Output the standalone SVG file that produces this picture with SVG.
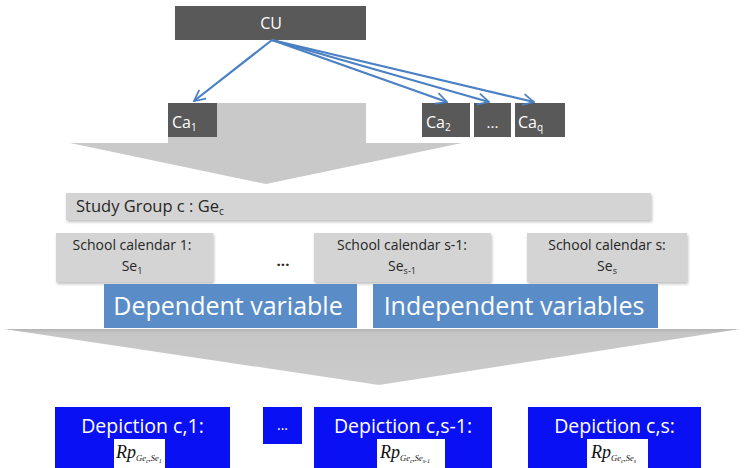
<svg xmlns="http://www.w3.org/2000/svg" width="744" height="468" viewBox="0 0 744 468">
<style>
.dark{fill:#595959}
.wt{fill:#ffffff;font-family:"Open Sans","Liberation Sans",sans-serif}
.lg{fill:#d4d4d4}
.dk{fill:#262626;font-family:"Open Sans","Liberation Sans",sans-serif}
.var{fill:#5a8dc8}
.dep{fill:#0a10f4}
.conn{stroke:#4a80c4;stroke-width:2.2;fill:none;marker-end:url(#ah)}
.f{font-family:"Liberation Serif",serif;font-style:italic;fill:#111}
</style>
<defs>
<marker id="ah" viewBox="0 0 12 12" refX="11" refY="6" markerWidth="6" markerHeight="6" orient="auto" markerUnits="strokeWidth">
<path d="M1,1 L11,6 L1,11" fill="none" stroke="#4a80c4" stroke-width="1.6"/>
</marker>
<filter id="sh" x="-5%" y="-20%" width="110%" height="150%">
<feDropShadow dx="1" dy="2" stdDeviation="1.5" flood-color="#000" flood-opacity="0.25"/>
</filter>
<linearGradient id="chev2" x1="0" y1="0" x2="0" y2="1">
<stop offset="0" stop-color="#b5b5b5"/>
<stop offset="0.08" stop-color="#c6c6c6"/>
<stop offset="1" stop-color="#cbcbcb"/>
</linearGradient>
</defs>
<rect width="744" height="468" fill="#ffffff"/>

<g id="arrow1">
<polygon points="168,103 366,103 366,143 462,143 266,184 70,143 168,143" fill="#c9c9c9"/>
</g>
<g id="arrow2">
<polygon points="4,329 740,329 379,385" fill="url(#chev2)"/>
</g>

<g id="CU">
<rect class="dark" x="175" y="6" width="191" height="34"/>
<text class="wt" x="271" y="29" font-size="16" text-anchor="middle">CU</text>
</g>
<g id="Ca1">
<rect class="dark" x="168" y="103" width="49" height="34"/>
<text class="wt" x="172" y="128" font-size="16">Ca<tspan font-size="10" dy="3">1</tspan></text>
</g>
<g id="Ca2">
<rect class="dark" x="422" y="103" width="48" height="34"/>
<text class="wt" x="426" y="128" font-size="16">Ca<tspan font-size="10" dy="3">2</tspan></text>
</g>
<g id="CaDots">
<rect class="dark" x="474" y="103" width="37" height="34"/>
<text class="wt" x="492.5" y="128" font-size="15" text-anchor="middle">...</text>
</g>
<g id="Caq">
<rect class="dark" x="515" y="103" width="50" height="34"/>
<text class="wt" x="518" y="128" font-size="16">Ca<tspan font-size="10" dy="3">q</tspan></text>
</g>

<g id="connectors">
<line class="conn" x1="272" y1="40" x2="194" y2="101"/>
<line class="conn" x1="272" y1="40" x2="447" y2="102"/>
<line class="conn" x1="272" y1="40" x2="489" y2="102"/>
<line class="conn" x1="272" y1="40" x2="534" y2="102"/>
</g>

<g id="studyGroup">
<rect class="lg" x="66" y="193" width="585" height="27" filter="url(#sh)"/>
<text class="dk" x="76" y="212" font-size="16.5">Study Group c : Ge<tspan font-size="10" dy="3">c</tspan></text>
</g>

<g id="sc1">
<rect class="lg" x="56" y="233" width="157" height="49" filter="url(#sh)"/>
<text class="dk" x="132" y="250" font-size="14" text-anchor="middle">School calendar 1:</text>
<text class="dk" x="132" y="271" font-size="14" text-anchor="middle">Se<tspan font-size="9" dy="3">1</tspan></text>
</g>
<g id="scDots">
<text class="dk" x="283" y="266" font-size="15" font-weight="bold" text-anchor="middle">...</text>
</g>
<g id="sc2">
<rect class="lg" x="314" y="233" width="177" height="49" filter="url(#sh)"/>
<text class="dk" x="402" y="250" font-size="14" text-anchor="middle">School calendar s-1:</text>
<text class="dk" x="402" y="271" font-size="14" text-anchor="middle">Se<tspan font-size="9" dy="3">s-1</tspan></text>
</g>
<g id="sc3">
<rect class="lg" x="527" y="233" width="160" height="49" filter="url(#sh)"/>
<text class="dk" x="607" y="250" font-size="14" text-anchor="middle">School calendar s:</text>
<text class="dk" x="607" y="271" font-size="14" text-anchor="middle">Se<tspan font-size="9" dy="3">s</tspan></text>
</g>

<g id="depVar">
<rect class="var" x="104" y="284" width="253" height="44"/>
<text class="wt" x="228" y="315" font-size="25" text-anchor="middle">Dependent variable</text>
</g>
<g id="indepVar">
<rect class="var" x="373" y="284" width="285" height="44"/>
<text class="wt" x="514" y="315" font-size="25" text-anchor="middle">Independent variables</text>
</g>

<g id="dep1">
<rect class="dep" x="55" y="407" width="175" height="64"/>
<text class="wt" x="142.5" y="433" font-size="19.5" text-anchor="middle">Depiction c,1:</text>
<rect x="114" y="439" width="51" height="32" fill="#ffffff"/>
<text class="f" x="116" y="458" font-size="18">Rp<tspan font-size="8.5" dy="3">Ge</tspan><tspan font-size="6" dy="2">c</tspan><tspan font-size="8.5" dy="-2">,Se</tspan><tspan font-size="6" dy="2">1</tspan></text>
</g>
<g id="depDots">
<rect class="dep" x="263" y="407" width="39" height="37"/>
<text class="wt" x="282.5" y="430" font-size="14" text-anchor="middle">...</text>
</g>
<g id="dep2">
<rect class="dep" x="314" y="407" width="178" height="64"/>
<text class="wt" x="403" y="433" font-size="19.5" text-anchor="middle">Depiction c,s-1:</text>
<rect x="377" y="439" width="68" height="32" fill="#ffffff"/>
<text class="f" x="380" y="458" font-size="18">Rp<tspan font-size="8.5" dy="3">Ge</tspan><tspan font-size="6" dy="2">c</tspan><tspan font-size="8.5" dy="-2">,Se</tspan><tspan font-size="6" dy="2">s-1</tspan></text>
</g>
<g id="dep3">
<rect class="dep" x="528" y="407" width="173" height="64"/>
<text class="wt" x="614.5" y="433" font-size="19.5" text-anchor="middle">Depiction c,s:</text>
<rect x="587" y="439" width="61" height="32" fill="#ffffff"/>
<text class="f" x="591" y="458" font-size="18">Rp<tspan font-size="8.5" dy="3">Ge</tspan><tspan font-size="6" dy="2">c</tspan><tspan font-size="8.5" dy="-2">,Se</tspan><tspan font-size="6" dy="2">s</tspan></text>
</g>
</svg>
